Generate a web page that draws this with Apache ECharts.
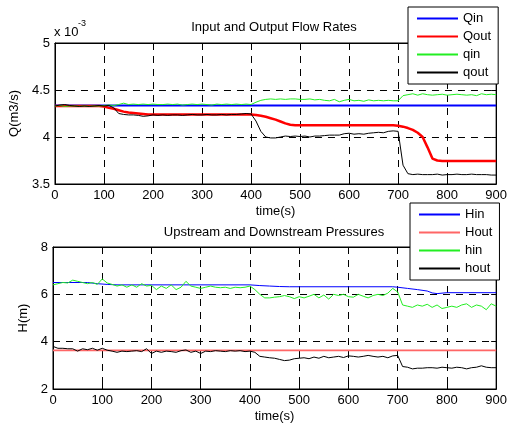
<!DOCTYPE html>
<html><head><meta charset="utf-8">
<script src="https://cdn.jsdelivr.net/npm/echarts@6/dist/echarts.min.js"></script>
<style>html,body{margin:0;padding:0;background:#fff}#c{width:510px;height:427px}</style>
</head><body><div id="c"></div>
<script>
// time samples (s)
const time = [0,10,20,30,40,50,60,70,80,90,100,110,120,130,140,150,160,170,180,190,200,210,220,230,240,250,260,270,280,290,300,310,320,330,340,350,360,370,380,390,400,410,420,430,440,450,460,470,480,490,500,510,520,530,540,550,560,570,580,590,600,610,620,630,640,650,660,670,680,690,700,710,720,730,740,750,760,770,780,790,800,810,820,830,840,850,860,870,880,890,900];
const xTicks = [0,100,200,300,400,500,600,700,800,900];
const qTicks = [3.5,4,4.5,5];
const hTicks = [2,4,6,8];

// Flow rates (x 10^-3 m3/s)
const QinT = [0, 900];
const QinV = [4.335, 4.335];
const QoutV = [4.33,4.33,4.33,4.33,4.33,4.33,4.33,4.33,4.33,4.33,4.325,4.31,4.30,4.285,4.27,4.26,4.255,4.25,4.245,4.24,4.24,4.24,4.24,4.24,4.24,4.24,4.24,4.24,4.24,4.24,4.24,4.24,4.24,4.24,4.24,4.24,4.24,4.24,4.24,4.24,4.24,4.235,4.225,4.215,4.20,4.185,4.165,4.145,4.13,4.125,4.125,4.125,4.125,4.125,4.125,4.125,4.125,4.125,4.125,4.125,4.125,4.125,4.125,4.125,4.125,4.125,4.125,4.125,4.125,4.125,4.12,4.11,4.095,4.075,4.045,4.00,3.89,3.77,3.75,3.745,3.745,3.745,3.745,3.745,3.745,3.745,3.745,3.745,3.745,3.745,3.745];
const qinV = [4.33,4.335,4.325,4.33,4.33,4.325,4.33,4.325,4.33,4.33,4.335,4.34,4.335,4.345,4.36,4.345,4.35,4.345,4.35,4.345,4.35,4.345,4.345,4.35,4.345,4.35,4.34,4.345,4.35,4.345,4.35,4.345,4.34,4.35,4.345,4.35,4.345,4.35,4.345,4.35,4.345,4.37,4.39,4.40,4.405,4.40,4.405,4.40,4.405,4.405,4.40,4.40,4.405,4.395,4.40,4.39,4.385,4.40,4.375,4.39,4.40,4.385,4.39,4.38,4.395,4.385,4.39,4.385,4.39,4.385,4.385,4.44,4.45,4.46,4.445,4.46,4.45,4.445,4.45,4.455,4.445,4.45,4.455,4.45,4.445,4.45,4.44,4.46,4.45,4.455,4.45];
const qoutV = [4.33,4.34,4.345,4.335,4.33,4.325,4.33,4.325,4.33,4.335,4.33,4.335,4.31,4.25,4.24,4.235,4.235,4.23,4.22,4.225,4.235,4.23,4.235,4.23,4.235,4.235,4.23,4.235,4.24,4.235,4.235,4.24,4.235,4.235,4.24,4.235,4.24,4.24,4.245,4.25,4.245,4.17,4.06,4.00,3.99,3.99,4.00,4.01,4.005,4.01,4.005,4.01,4.00,4.01,4.01,4.015,4.02,4.02,4.02,4.035,4.04,4.03,4.035,4.03,4.04,4.045,4.05,4.045,4.06,4.065,4.06,3.70,3.61,3.60,3.605,3.60,3.60,3.60,3.605,3.595,3.60,3.60,3.605,3.60,3.60,3.605,3.60,3.60,3.60,3.595,3.595];

// Pressures (m)
const HinT = [0,70,90,110,130,400,420,440,460,480,690,700,720,740,760,770,780,800,900];
const HinV = [6.5,6.5,6.45,6.42,6.4,6.4,6.37,6.35,6.33,6.32,6.32,6.3,6.25,6.2,6.14,6.06,6.03,6.07,6.07];
const HoutT = [0, 900];
const HoutV = [3.63, 3.63];
const hinV = [6.4,6.45,6.5,6.48,6.6,6.55,6.5,6.45,6.5,6.42,6.65,6.48,6.42,6.35,6.4,6.3,6.4,6.3,6.45,6.35,6.38,6.2,6.35,6.25,6.4,6.2,6.3,6.55,6.35,6.3,6.25,6.3,6.35,6.3,6.28,6.3,6.25,6.3,6.28,6.3,6.35,6.2,6.0,5.85,5.85,5.88,5.9,5.95,5.9,5.82,5.9,5.85,5.92,6.0,5.85,5.97,5.8,6.0,5.95,6.0,5.9,5.88,6.0,5.92,5.85,5.95,6.0,5.95,6.05,6.25,6.1,5.55,5.5,5.45,5.55,5.5,5.58,5.45,5.55,5.4,5.45,5.5,5.45,5.55,5.6,5.45,5.55,5.5,5.35,5.6,5.5];
const houtV = [3.8,3.72,3.72,3.7,3.7,3.6,3.7,3.66,3.72,3.64,3.72,3.64,3.6,3.55,3.6,3.58,3.6,3.62,3.58,3.7,3.5,3.6,3.55,3.6,3.58,3.55,3.62,3.65,3.55,3.6,3.5,3.6,3.58,3.62,3.6,3.58,3.62,3.6,3.62,3.58,3.6,3.55,3.38,3.35,3.32,3.3,3.25,3.2,3.22,3.28,3.3,3.32,3.28,3.35,3.3,3.38,3.32,3.35,3.38,3.33,3.4,3.38,3.35,3.38,3.42,3.38,3.35,3.38,3.32,3.4,3.42,2.95,2.92,2.85,2.88,2.88,2.9,2.9,2.88,2.92,2.9,2.88,2.92,2.9,2.85,2.9,2.92,2.98,2.92,2.9,2.9];

const FONT = 'Liberation Sans, Arial, Helvetica, sans-serif';
const pairs = (ts, vs) => ts.map((t, i) => [t, vs[i]]);

function line(name, ts, vs, color, width, xi, yi) {
  return { name, type: 'line', xAxisIndex: xi, yAxisIndex: yi, data: pairs(ts, vs),
    symbol: 'none', showSymbol: false, lineStyle: { color, width }, itemStyle: { color },
    emphasis: { disabled: true }, silent: true };
}

const gridLine = { show: true, lineStyle: { color: '#000', type: [7, 6], width: 1 } };
const label = { color: '#000', fontSize: 13, fontFamily: FONT };

function mainX(gi) {
  return { gridIndex: gi, type: 'value', min: xTicks[0], max: xTicks[xTicks.length - 1], interval: xTicks[1] - xTicks[0],
    position: 'bottom',
    axisLine: { show: true, onZero: false, lineStyle: { color: '#000', width: 1 } },
    axisTick: { show: true, inside: true, length: 5, lineStyle: { color: '#000' } },
    axisLabel: Object.assign({ margin: 5 }, label),
    splitLine: gridLine,
    name: 'time(s)', nameLocation: 'middle', nameGap: 21, nameTextStyle: label };
}
function topX(gi) {
  return { gridIndex: gi, type: 'value', min: xTicks[0], max: xTicks[xTicks.length - 1], interval: xTicks[1] - xTicks[0],
    position: 'top', axisLine: { show: true, onZero: false, lineStyle: { color: '#000' } },
    axisTick: { show: true, inside: true, length: 5, lineStyle: { color: '#000' } },
    axisLabel: { show: false }, splitLine: { show: false } };
}
function mainY(gi, ticks, name, gap) {
  return { gridIndex: gi, type: 'value', min: ticks[0], max: ticks[ticks.length - 1], interval: ticks[1] - ticks[0],
    position: 'left',
    axisLine: { show: true, onZero: false, lineStyle: { color: '#000', width: 1 } },
    axisTick: { show: true, inside: true, length: 5, lineStyle: { color: '#000' } },
    axisLabel: Object.assign({ margin: 5 }, label),
    splitLine: gridLine,
    name, nameLocation: 'middle', nameGap: gap, nameTextStyle: label };
}
function rightY(gi, ticks) {
  return { gridIndex: gi, type: 'value', min: ticks[0], max: ticks[ticks.length - 1], interval: ticks[1] - ticks[0],
    position: 'right', axisLine: { show: true, onZero: false, lineStyle: { color: '#000' } },
    axisTick: { show: true, inside: true, length: 5, lineStyle: { color: '#000' } },
    axisLabel: { show: false }, splitLine: { show: false } };
}

const legendBase = { orient: 'vertical', backgroundColor: '#fff', borderColor: '#000', borderWidth: 1,
  borderRadius: 0, itemWidth: 41, itemHeight: 14, itemGap: 5, padding: [5, 7, 5, 8],
  itemStyle: { opacity: 0 },
  textStyle: { color: '#000', fontSize: 13, fontFamily: FONT, padding: [0, 0, 0, 0] }, selectedMode: false, z: 10 };

const option = {
  animation: false,
  backgroundColor: '#fff',
  grid: [
    { left: 53, top: 43, width: 445, height: 141, show: true, borderColor: '#000', borderWidth: 1, backgroundColor: '#fff' },
    { left: 53, top: 247, width: 445, height: 142, show: true, borderColor: '#000', borderWidth: 1, backgroundColor: '#fff' }
  ],
  xAxis: [mainX(0), topX(0), mainX(1), topX(1)],
  yAxis: [mainY(0, qTicks, 'Q(m3/s)', 33), rightY(0, qTicks), mainY(1, hTicks, 'H(m)', 18), rightY(1, hTicks)],
  legend: [
    Object.assign({}, legendBase, { left: 408, top: 7, data: ['Qin', 'Qout', 'qin', 'qout'] }),
    Object.assign({}, legendBase, { left: 410, top: 203, data: ['Hin', 'Hout', 'hin', 'hout'] })
  ],
  graphic: [
    { type: 'text', x: 274, y: 27, z: 5, style: { text: 'Input and Output Flow Rates', font: '13px ' + FONT, fill: '#000', align: 'center', verticalAlign: 'middle', textAlign: 'center', textVerticalAlign: 'middle' } },
    { type: 'text', x: 274, y: 232, z: 5, style: { text: 'Upstream and Downstream Pressures', font: '13px ' + FONT, fill: '#000', align: 'center', verticalAlign: 'middle', textAlign: 'center', textVerticalAlign: 'middle' } },
    { type: 'text', x: 54, y: 32, z: 5, style: { text: 'x 10', font: '13px ' + FONT, fill: '#000', align: 'left', verticalAlign: 'middle', textAlign: 'left', textVerticalAlign: 'middle' } },
    { type: 'text', x: 78, y: 24, z: 5, style: { text: '-3', font: '9px ' + FONT, fill: '#000', align: 'left', verticalAlign: 'middle', textAlign: 'left', textVerticalAlign: 'middle' } }
  ],
  series: [
    line('Qin', QinT, QinV, '#0000ff', 2, 0, 0),
    line('Qout', time, QoutV, '#ff0000', 2.5, 0, 0),
    line('qin', time, qinV, '#22ee22', 1, 0, 0),
    line('qout', time, qoutV, '#000000', 1, 0, 0),
    line('Hin', HinT, HinV, '#0000ff', 1, 2, 2),
    line('Hout', HoutT, HoutV, '#ff6666', 1.6, 2, 2),
    line('hin', time, hinV, '#22ee22', 1, 2, 2),
    line('hout', time, houtV, '#000000', 1, 2, 2)
  ]
};
const chart = echarts.init(document.getElementById('c'), null, { renderer: 'canvas' });
chart.setOption(option);
</script>
</body></html>
